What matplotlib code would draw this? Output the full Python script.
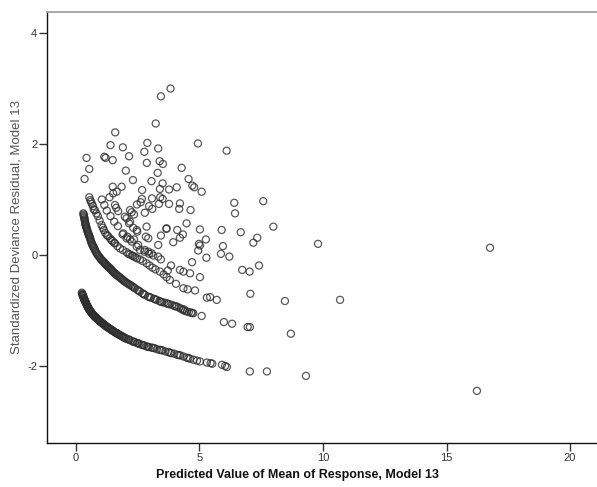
import matplotlib
matplotlib.use("Agg")
import matplotlib.pyplot as plt

# ---- data ----
# observations with response 0 (lowest band)
band0_x = [0.24, 0.26, 0.28, 0.30, 0.31, 0.33, 0.35, 0.37, 0.39, 0.41, 0.44, 0.47, 0.50, 0.53,
           0.57, 0.60, 0.64, 0.68, 0.72, 0.76, 0.81, 0.86, 0.91, 0.96, 1.01, 1.07, 1.12, 1.18,
           1.24, 1.30, 1.37, 1.44, 1.50, 1.57, 1.64, 1.72, 1.80, 1.88, 1.96, 2.04, 2.12, 2.21,
           2.30, 2.39, 2.48, 2.57, 2.66, 2.76, 2.86, 2.96, 3.06, 3.17, 3.28, 3.39, 3.50, 3.62,
           3.74, 3.86, 3.98, 4.10, 4.22, 4.35, 4.48, 4.62, 4.76, 5.02, 5.30, 5.45, 5.52, 5.91,
           6.04, 6.11, 7.04, 7.73, 9.31, 16.23,
           0.25, 0.27, 0.29, 0.32, 0.34, 0.36, 0.38, 0.40, 0.42, 0.455, 0.485, 0.515, 0.55,
           0.585, 0.62, 0.66, 0.70, 0.74, 0.785, 0.835, 0.885, 0.935, 0.985, 1.04, 1.095, 1.15,
           1.21, 1.27, 1.335, 1.405, 1.47, 1.54, 1.61, 1.68, 1.76, 1.84, 1.92, 2.00, 2.16, 2.34,
           2.52, 2.71, 2.91, 3.12, 3.45, 3.80, 4.16, 4.55, 4.90]
band0_y = [-0.68, -0.71, -0.73, -0.75, -0.77, -0.79, -0.81, -0.83, -0.85, -0.87, -0.90, -0.93,
           -0.95, -0.98, -1.00, -1.02, -1.05, -1.07, -1.09, -1.11, -1.13, -1.15, -1.17, -1.19,
           -1.21, -1.23, -1.25, -1.27, -1.29, -1.31, -1.33, -1.35, -1.37, -1.39, -1.41, -1.43,
           -1.45, -1.47, -1.49, -1.51, -1.52, -1.54, -1.56, -1.57, -1.59, -1.60, -1.62, -1.63,
           -1.65, -1.66, -1.67, -1.68, -1.70, -1.71, -1.72, -1.74, -1.75, -1.77, -1.78, -1.80,
           -1.81, -1.83, -1.85, -1.87, -1.89, -1.92, -1.94, -1.95, -1.96, -1.98, -2.00, -2.02,
           -2.10, -2.10, -2.18, -2.45,
           -0.70, -0.72, -0.74, -0.78, -0.80, -0.82, -0.84, -0.86, -0.88, -0.915, -0.94, -0.965,
           -0.99, -1.01, -1.035, -1.06, -1.08, -1.10, -1.12, -1.14, -1.16, -1.18, -1.20, -1.22,
           -1.24, -1.26, -1.28, -1.30, -1.32, -1.34, -1.36, -1.38, -1.40, -1.42, -1.44, -1.46,
           -1.48, -1.50, -1.53, -1.565, -1.595, -1.625, -1.655, -1.675, -1.715, -1.76, -1.805,
           -1.86, -1.905]

# response 1
band1_x = [0.30, 0.32, 0.34, 0.36, 0.38, 0.40, 0.43, 0.46, 0.50, 0.53, 0.57, 0.60, 0.64, 0.68,
           0.73, 0.78, 0.84, 0.90, 0.97, 1.04, 1.11, 1.17, 1.23, 1.30, 1.38, 1.44, 1.50, 1.57,
           1.65, 1.73, 1.82, 1.90, 1.98, 2.08, 2.19, 2.29, 2.39, 2.49, 2.59, 2.69, 2.79, 2.92,
           3.04, 3.16, 3.27, 3.38, 3.48, 3.58, 3.67, 3.78, 3.89, 3.98, 4.08, 4.18, 4.25, 4.33,
           4.41, 4.50, 4.57, 4.66, 4.75, 5.09, 5.99, 6.32, 6.95, 7.04, 8.70,
           0.31, 0.33, 0.35, 0.37, 0.39, 0.415, 0.445, 0.48, 0.515, 0.55, 0.585, 0.62, 0.66,
           0.705, 0.755, 0.81, 0.87, 0.935, 1.00, 1.075, 1.14, 1.20, 1.265, 1.34, 1.41, 1.47,
           1.535, 1.61, 1.69, 1.775, 1.86, 1.94, 2.03, 2.13, 2.24, 2.34, 2.54, 2.74, 2.98, 3.21,
           3.43, 3.72, 4.03, 4.37, 4.70]
band1_y = [0.75, 0.71, 0.67, 0.62, 0.57, 0.53, 0.49, 0.44, 0.39, 0.35, 0.31, 0.26, 0.21, 0.17,
           0.13, 0.08, 0.03, -0.01, -0.05, -0.09, -0.12, -0.15, -0.18, -0.21, -0.24, -0.27,
           -0.30, -0.33, -0.36, -0.39, -0.42, -0.45, -0.48, -0.51, -0.54, -0.57, -0.60, -0.63,
           -0.66, -0.69, -0.72, -0.75, -0.77, -0.79, -0.81, -0.83, -0.85, -0.86, -0.87, -0.89,
           -0.90, -0.92, -0.93, -0.95, -0.97, -0.99, -1.01, -1.02, -1.03, -1.04, -1.05, -1.10,
           -1.21, -1.24, -1.30, -1.30, -1.42,
           0.73, 0.69, 0.645, 0.595, 0.55, 0.51, 0.465, 0.415, 0.37, 0.33, 0.285, 0.235, 0.19,
           0.15, 0.105, 0.055, 0.01, -0.03, -0.07, -0.105, -0.135, -0.165, -0.195, -0.225,
           -0.255, -0.285, -0.315, -0.345, -0.375, -0.405, -0.435, -0.465, -0.495, -0.525,
           -0.555, -0.585, -0.645, -0.705, -0.76, -0.80, -0.84, -0.88, -0.925, -0.98, -1.045]

# response 2
band2_x = [0.54, 0.58, 0.61, 0.65, 0.69, 0.72, 0.77, 0.83, 0.89, 0.96, 1.04, 1.09, 1.13, 1.19,
           1.25, 1.30, 1.38, 1.44, 1.48, 1.55, 1.58, 1.68, 1.78, 1.90, 2.05, 2.12, 2.19, 2.27,
           2.32, 2.40, 2.47, 2.59, 2.71, 2.86, 2.98, 3.10, 3.22, 3.40, 3.55, 3.67, 3.80, 4.05,
           4.35, 4.52, 4.82, 5.30, 5.43, 5.70]
band2_y = [1.04, 0.99, 0.96, 0.92, 0.88, 0.82, 0.81, 0.75, 0.70, 0.62, 0.54, 0.49, 0.45, 0.40,
           0.36, 0.34, 0.30, 0.27, 0.25, 0.22, 0.21, 0.16, 0.12, 0.09, 0.05, 0.02, 0.01, -0.01,
           -0.02, -0.04, -0.06, -0.08, -0.11, -0.15, -0.19, -0.23, -0.26, -0.30, -0.35, -0.40,
           -0.45, -0.52, -0.60, -0.62, -0.64, -0.77, -0.76, -0.81]

# response 3
band3_x = [1.05, 1.15, 1.25, 1.40, 1.55, 1.70, 1.89, 1.92, 2.05, 2.08, 2.19, 2.26, 2.35, 2.46,
           2.52, 2.59, 2.77, 2.79, 2.93, 2.96, 3.06, 3.13, 3.33, 3.44, 3.72, 3.85, 4.21, 4.35,
           4.62, 5.02, 7.06, 8.46]
band3_y = [1.00, 0.90, 0.80, 0.70, 0.60, 0.52, 0.37, 0.39, 0.30, 0.33, 0.28, 0.24, 0.28, 0.15,
           0.18, 0.09, 0.06, 0.09, 0.06, 0.02, 0.03, -0.01, -0.03, -0.08, -0.28, -0.19, -0.27,
           -0.30, -0.33, -0.40, -0.70, -0.83]

# larger responses / scattered points
other_x = [3.83, 3.44, 3.23, 1.59, 4.94, 1.40, 1.90, 2.89, 3.33, 2.77, 0.43, 1.15, 1.20, 1.49,
           2.15, 2.87, 3.39, 3.52, 0.54, 2.02, 4.28, 3.31, 0.35, 2.31, 3.06, 3.51, 4.56, 4.71,
           4.79, 5.09, 1.49, 1.85, 1.65, 1.36, 2.68, 3.40, 3.77, 4.08, 3.08, 3.41, 3.51, 2.67,
           1.51, 1.58, 1.63, 1.71, 2.19, 2.26, 2.35, 2.47, 2.62, 2.79, 2.96, 3.09, 3.36, 3.77,
           4.18, 4.21, 4.64, 1.98, 2.05, 2.15, 2.19, 2.32, 2.46, 2.48, 2.86, 2.83, 2.93, 3.33,
           3.44, 3.66, 3.67, 4.10, 4.33, 4.48, 3.94, 4.21, 4.98, 4.95, 4.70,
           6.10, 6.41, 7.58, 6.44, 7.99, 5.02, 5.90, 6.67, 5.26, 7.34, 7.18, 9.80, 5.02, 5.95,
           5.87, 6.21, 5.28, 6.73, 7.03, 7.41, 10.69, 16.76]
other_y = [3.00, 2.86, 2.37, 2.21, 2.01, 1.98, 1.94, 2.02, 1.92, 1.86, 1.75, 1.77, 1.75, 1.71,
           1.78, 1.66, 1.69, 1.64, 1.55, 1.52, 1.57, 1.48, 1.37, 1.35, 1.33, 1.29, 1.37, 1.25,
           1.22, 1.14, 1.23, 1.23, 1.14, 1.04, 1.17, 1.19, 1.18, 1.22, 1.02, 1.04, 1.01, 1.01,
           1.11, 0.90, 0.85, 0.79, 0.81, 0.77, 0.73, 0.91, 0.95, 0.76, 0.88, 0.83, 0.92, 0.92,
           0.83, 0.93, 0.81, 0.69, 0.66, 0.57, 0.60, 0.49, 0.45, 0.42, 0.51, 0.33, 0.30, 0.18,
           0.35, 0.47, 0.48, 0.45, 0.37, 0.57, 0.23, 0.31, 0.20, 0.08, -0.13,
           1.88, 0.94, 0.97, 0.75, 0.51, 0.46, 0.45, 0.41, 0.28, 0.31, 0.22, 0.20, 0.17, 0.16,
           0.02, -0.03, -0.05, -0.27, -0.30, -0.19, -0.81, 0.13]

x_ticks = [0, 5, 10, 15, 20]
y_ticks = [-2, 0, 2, 4]
x_label = "Predicted Value of Mean of Response, Model 13"
y_label = "Standardized Deviance Residual, Model 13"

# ---- figure ----
W, H = 597, 487
fig = plt.figure(figsize=(W / 100, H / 100), dpi=100)
fig.patch.set_facecolor("white")
ax_w, ax_h = W - 47, 443 - 12
ax = fig.add_axes([47 / W, (H - 443) / H, ax_w / W, ax_h / H])

series = [(band0_x, band0_y), (band1_x, band1_y), (band2_x, band2_y),
          (band3_x, band3_y), (other_x, other_y)]
for xs, ys in series:
    ax.scatter(xs, ys, s=26, facecolors="none", edgecolors="#2e2e2e",
               linewidths=0.9, alpha=0.8, zorder=3)

ax.set_xlim(-1.17, 21.09)
ax.set_ylim(-3.39, 4.38)
ax.set_xticks(x_ticks)
ax.set_yticks(y_ticks)
ax.set_xticklabels([str(t) for t in x_ticks], fontsize=8, color="#444444",
                   family="Liberation Sans")
ax.set_yticklabels([str(t) for t in y_ticks], fontsize=8, color="#444444",
                   family="Liberation Sans")
ax.tick_params(direction="out", length=6, width=1, colors="#333333", pad=1)

ax.spines["right"].set_visible(False)
ax.spines["top"].set_color("#9a9a9a")
ax.spines["top"].set_linewidth(1.2)
for sp in ("left", "bottom"):
    ax.spines[sp].set_color("#111111")
    ax.spines[sp].set_linewidth(1.0)

ax.set_xlabel(x_label, fontsize=9, fontweight="bold", family="Liberation Sans",
              color="#111111")
ax.xaxis.set_label_coords((298 - 47) / ax_w, -(475 - 443) / ax_h)
ax.xaxis.label.set_va("center")
ax.set_ylabel(y_label, fontsize=9.5, family="Liberation Sans", color="#555555")
ax.yaxis.set_label_coords((17 - 47) / ax_w, 0.5)
ax.yaxis.label.set_va("center")

fig.savefig("out.png", dpi=100, facecolor="white")
